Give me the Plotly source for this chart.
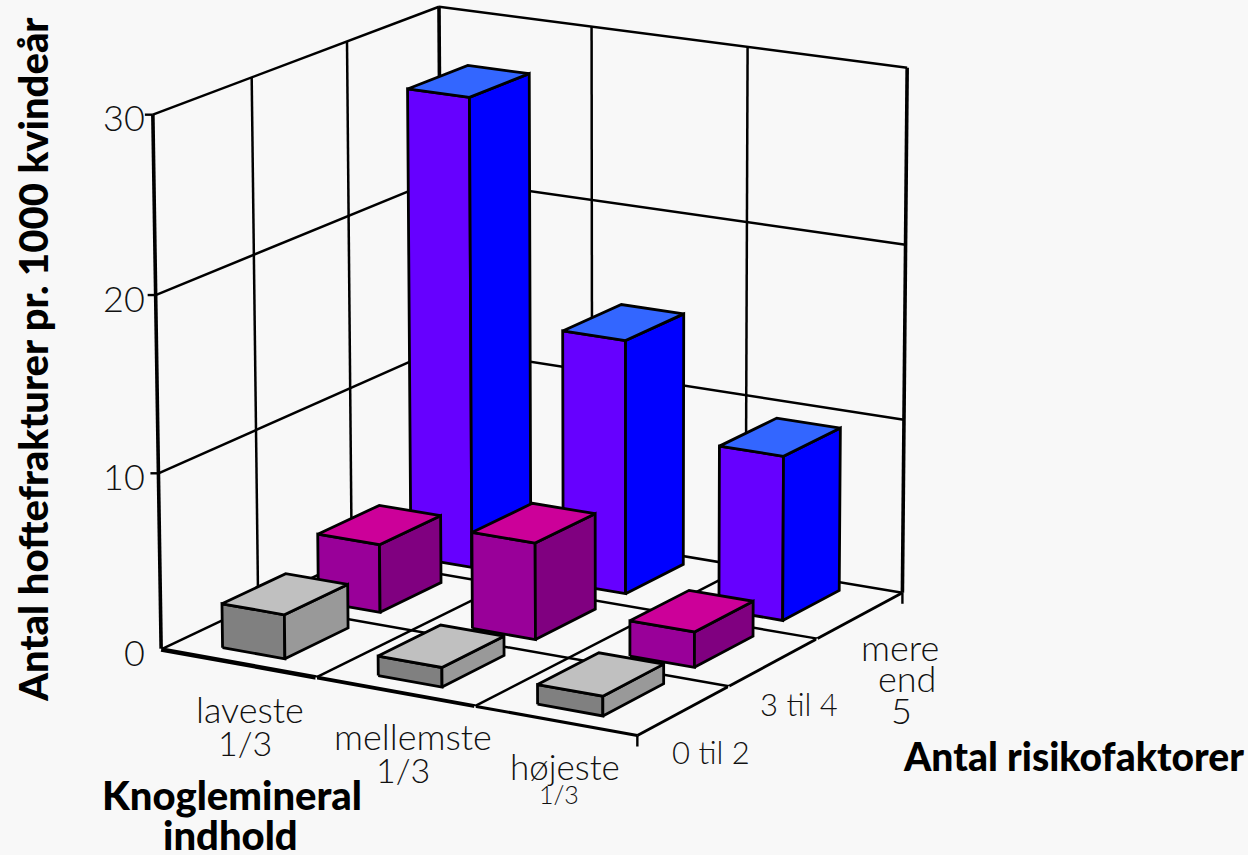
import numpy as np
import plotly.graph_objects as go

# Hip fractures per 1000 woman-years by bone mineral tertile and number of risk factors
mineral_levels = ["laveste 1/3", "mellemste 1/3", "højeste 1/3"]
risk_levels = ["0 til 2", "3 til 4", "mere end 5"]
risk_0_2 = [2.5, 1.1, 1.1]
risk_3_4 = [3.9, 5.5, 2.0]
risk_5_plus = [27.2, 14.6, 9.4]
z_ticks = [0, 10, 20, 30]
Z_TOP = 30

# Camera matrix taking (mineral, risk, fractures) to page pixels
CAMERA = np.array([
    [151.469814, 101.654934, -0.365186, 161.14839],
    [20.301366, -35.234296, -17.892432, 649.466754],
    [-0.011395, 0.018086, -0.000581, 1.0],
])

# Footprint of a bar inside its floor cell
BAR_X = (0.272, 0.675)
BAR_Y = (0.20, 0.86)

INK = "#000000"
PAPER = "#f8f8f8"
PALETTES = {
    0: ("#808080", "#999999", "#c0c0c0"),
    1: ("#990099", "#800080", "#cc0099"),
    2: ("#6600ff", "#0000ff", "#3366ff"),
}


def project(points):
    pts = np.column_stack([np.asarray(points, float), np.ones(len(points))])
    q = pts @ CAMERA.T
    return q[:, 0] / q[:, 2], q[:, 1] / q[:, 2]


fig = go.Figure()


def line3d(a, b, width=2.5, color=INK):
    u, v = project([a, b])
    fig.add_trace(go.Scatter(x=u, y=v, mode="lines", line=dict(color=color, width=width),
                             hoverinfo="skip", showlegend=False))


def face(corners, color):
    u, v = project(list(corners) + [corners[0]])
    fig.add_trace(go.Scatter(x=u, y=v, mode="lines", fill="toself", fillcolor=color,
                             line=dict(color=INK, width=2.8), hoverinfo="skip", showlegend=False))


def tick(point, du, dv, color=INK, width=2.4):
    u, v = project([point])
    fig.add_trace(go.Scatter(x=[u[0], u[0] + du], y=[v[0], v[0] + dv], mode="lines",
                             line=dict(color=color, width=width), hoverinfo="skip", showlegend=False))


# Walls
for y in (1, 2):
    line3d((0, y, 0), (0, y, Z_TOP))
for x in (1, 2):
    line3d((x, 3, 0), (x, 3, Z_TOP))
for z in z_ticks[1:]:
    line3d((0, 0, z), (0, 3, z))
    line3d((0, 3, z), (3, 3, z))
line3d((0, 3, 0), (0, 3, Z_TOP), 3.6)
line3d((3, 3, 0), (3, 3, Z_TOP), 3.6)
line3d((0, 0, 0), (0, 0, Z_TOP), 3.6)

# Floor
for x in (1, 2):
    line3d((x, 0, 0), (x, 3, 0))
for y in (1, 2):
    line3d((0, y, 0), (3, y, 0))
line3d((0, 0, 0), (0, 3, 0))
line3d((0, 3, 0), (3, 3, 0))
line3d((3, 0, 0), (3, 3, 0), 2.8)
line3d((0, 0, 0), (1, 0, 0), 4.4)
line3d((1, 0, 0), (2, 0, 0), 3.8)
line3d((2, 0, 0), (3, 0, 0), 3)


# Bars, far cells first so nearer ones overlap them
def draw_bar(col, row, value):
    x0, x1 = col + BAR_X[0], col + BAR_X[1]
    y0, y1 = row + BAR_Y[0], row + BAR_Y[1]
    front, side, top = PALETTES[row]
    face([(x0, y0, 0), (x1, y0, 0), (x1, y0, value), (x0, y0, value)], front)
    face([(x1, y0, 0), (x1, y1, 0), (x1, y1, value), (x1, y0, value)], side)
    face([(x0, y0, value), (x1, y0, value), (x1, y1, value), (x0, y1, value)], top)


rows = [risk_0_2, risk_3_4, risk_5_plus]
for row in (2, 1, 0):
    for col in range(3):
        draw_bar(col, row, rows[row][col])

# Tick marks
for z in z_ticks[1:]:
    tick((0, 0, z), -8, 0)
tick((0, 0, 0), -8, 0, PAPER, 1.6)
tick((3, 0, 0), 0, 11)
tick((3, 3, 0), 0, 11)
for p in [(1, 0, 0), (2, 0, 0), (3, 1, 0), (3, 2, 0)]:
    tick(p, 0, 8, PAPER, 1.6)

LIGHT = dict(family="Lato", size=36, color="#111111", weight=300)
HEAVY = dict(family="Lato", size=40, color="#000000", weight=900)


def label(x, y, text, font=LIGHT, anchor="center", angle=0):
    fig.add_annotation(x=x, y=y, text=text, showarrow=False, xanchor=anchor, yanchor="middle",
                       textangle=angle, font=font, xref="x", yref="y")


for z, y in zip(z_ticks, (652, 476, 298, 117)):
    label(147, y, str(z), anchor="right")

first_lines = [name.split()[0] for name in mineral_levels]
second_lines = [name.split()[1] for name in mineral_levels]
label(250, 709, first_lines[0])
label(245, 742, second_lines[0], dict(LIGHT, size=34))
label(413, 736, first_lines[1])
label(403, 769, second_lines[1], dict(LIGHT, size=34))
label(565, 766, first_lines[2], dict(LIGHT, size=35))
label(559, 794, second_lines[2], dict(LIGHT, size=25))

label(711, 752, risk_levels[0], dict(LIGHT, size=31))
label(799, 704, risk_levels[1], dict(LIGHT, size=31))
for word, x, y in zip(risk_levels[2].split(), (900, 907, 901), (647, 678, 710)):
    label(x, y, word)

label(232, 795, "Knoglemineral", HEAVY)
label(230, 835, "indhold", HEAVY)
label(1073, 756, "Antal risikofaktorer", dict(HEAVY, size=39))
label(33, 360, "Antal hoftefrakturer pr. 1000 kvindeår", HEAVY, angle=-90)

fig.update_layout(
    width=1248, height=855, margin=dict(l=0, r=0, t=0, b=0),
    paper_bgcolor=PAPER, plot_bgcolor=PAPER, showlegend=False,
    xaxis=dict(range=[0, 1248], visible=False, fixedrange=True),
    yaxis=dict(range=[855, 0], visible=False, fixedrange=True),
)
fig.write_html("out.html", config=dict(displayModeBar=False))
